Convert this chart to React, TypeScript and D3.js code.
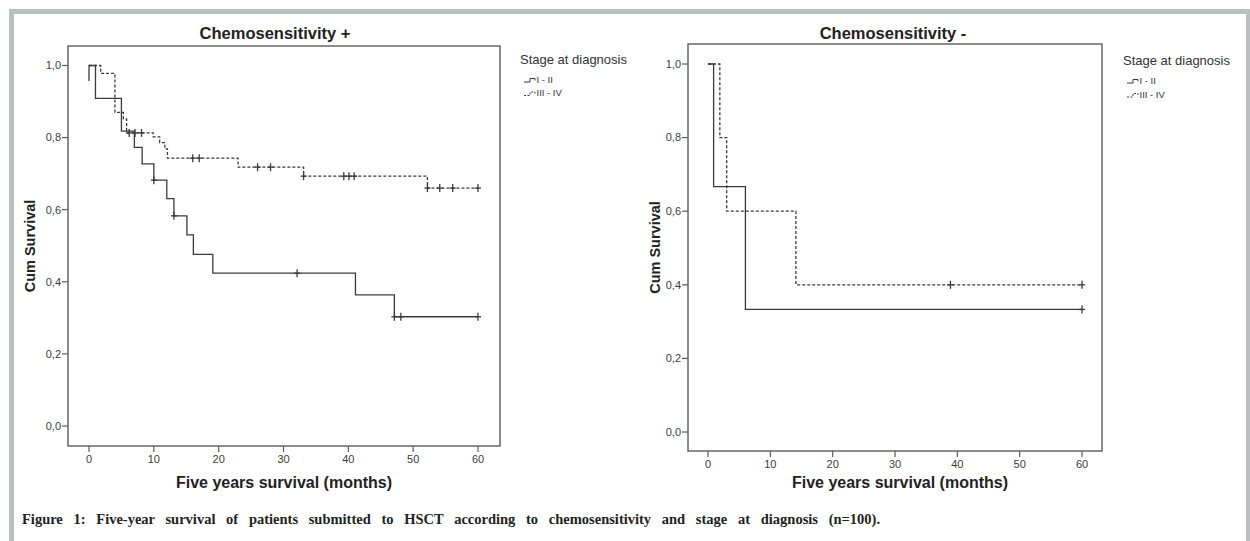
import React, { useRef, useEffect } from "react"
import * as d3 from "d3"

const monthTicks = [0, 10, 20, 30, 40, 50, 60]
const survivalTicks = [0, 0.2, 0.4, 0.6, 0.8, 1.0]
const stageLabels = ["I - II", "III - IV"]

// Chemosensitivity + : [month, cum survival after the step]
const posStageI = [[0, 0.957], [0, 1.0], [1.0, 0.909], [5.0, 0.818], [7.0, 0.773], [8.2, 0.727], [10.0, 0.682], [12.0, 0.631], [13.1, 0.583], [15.1, 0.53], [16.1, 0.476], [19.1, 0.424], [41.1, 0.364], [47.1, 0.303], [60, 0.303]]
const posStageICensored = [10.0, 13.1, 32.1, 47.1, 48.1, 60]
const posStageIII = [[0, 1.0], [1.8, 0.978], [4.0, 0.87], [5.3, 0.852], [5.8, 0.813], [9.9, 0.802], [10.9, 0.786], [11.7, 0.769], [12.1, 0.743], [23.0, 0.718], [33.1, 0.693], [52.2, 0.66], [60, 0.66]]
const posStageIIICensored = [6.2, 7.1, 8.1, 16.0, 17.0, 26.0, 28.0, 33.1, 39.3, 40.1, 40.9, 52.2, 54.1, 56.1, 60]

// Chemosensitivity -
const negStageI = [[0, 1.0], [0.9, 0.667], [6.0, 0.333], [60, 0.333]]
const negStageICensored = [60]
const negStageIII = [[0, 1.0], [1.9, 0.8], [3.0, 0.6], [14.1, 0.4], [60, 0.4]]
const negStageIIICensored = [38.9, 60]

const caption =
  "Figure 1: Five-year survival of patients submitted to HSCT according to chemosensitivity and stage at diagnosis (n=100)."

const sans = "'Liberation Sans', Arial, sans-serif"
const ink = "#3a3a3a"

const panels = [
  {
    title: "Chemosensitivity +",
    titleX: 275,
    box: { x0: 68, x1: 500, y0: 46, y1: 446 },
    xr: [89, 478],
    yr: [426, 65.5],
    yLabelX: 30,
    xLabelX: 284,
    legend: { x: 520, y: 64, gap: 13.5 },
    series: [
      { steps: posStageI, censored: posStageICensored, dash: null },
      { steps: posStageIII, censored: posStageIIICensored, dash: "3,2" },
    ],
  },
  {
    title: "Chemosensitivity -",
    titleX: 893,
    box: { x0: 688, x1: 1102, y0: 44, y1: 451 },
    xr: [708, 1082],
    yr: [432, 64],
    yLabelX: 655,
    xLabelX: 900,
    legend: { x: 1123, y: 65, gap: 14 },
    series: [
      { steps: negStageI, censored: negStageICensored, dash: null },
      { steps: negStageIII, censored: negStageIIICensored, dash: "3,2" },
    ],
  },
]

function valueAt(steps, t) {
  let v = steps[0][1]
  steps.forEach(d => {
    if (d[0] <= t) v = d[1]
  })
  return v
}

function drawPanel(svg, p) {
  const x = d3.scaleLinear().domain([0, 60]).range(p.xr)
  const y = d3.scaleLinear().domain([0, 1]).range(p.yr)
  const g = svg.append("g")
  const b = p.box

  g.append("rect")
    .attr("x", b.x0)
    .attr("y", b.y0)
    .attr("width", b.x1 - b.x0)
    .attr("height", b.y1 - b.y0)
    .attr("fill", "none")
    .attr("stroke", "#5c5c5c")
    .attr("stroke-width", 1.4)

  // y axis
  g.selectAll(".yt")
    .data(survivalTicks)
    .join("line")
    .attr("x1", b.x0 - 6)
    .attr("x2", b.x0)
    .attr("y1", d => y(d))
    .attr("y2", d => y(d))
    .attr("stroke", "#5c5c5c")
    .attr("stroke-width", 1.2)
  g.selectAll(".yl")
    .data(survivalTicks)
    .join("text")
    .attr("x", b.x0 - 7)
    .attr("y", d => y(d))
    .attr("dy", "0.35em")
    .attr("text-anchor", "end")
    .style("font-family", sans)
    .style("font-size", "11px")
    .attr("fill", "#3c3c3c")
    .text(d => d3.format(".1f")(d).replace(".", ","))

  // x axis
  g.selectAll(".xt")
    .data(monthTicks)
    .join("line")
    .attr("x1", d => x(d))
    .attr("x2", d => x(d))
    .attr("y1", b.y1)
    .attr("y2", b.y1 + 6)
    .attr("stroke", "#5c5c5c")
    .attr("stroke-width", 1.2)
  g.selectAll(".xl")
    .data(monthTicks)
    .join("text")
    .attr("x", d => x(d))
    .attr("y", b.y1 + 17)
    .attr("text-anchor", "middle")
    .style("font-family", sans)
    .style("font-size", "11px")
    .attr("fill", "#3c3c3c")
    .text(d => d)

  g.append("text")
    .attr("x", p.titleX)
    .attr("y", 39)
    .attr("text-anchor", "middle")
    .style("font-family", sans)
    .style("font-size", "16.5px")
    .style("font-weight", "bold")
    .attr("fill", "#222")
    .text(p.title)

  g.append("text")
    .attr("x", p.xLabelX)
    .attr("y", 488)
    .attr("text-anchor", "middle")
    .style("font-family", sans)
    .style("font-size", "16px")
    .style("font-weight", "bold")
    .attr("fill", "#222")
    .text("Five years survival (months)")

  g.append("text")
    .attr("transform", `translate(${p.yLabelX + 5}, ${(b.y0 + b.y1) / 2}) rotate(-90)`)
    .attr("text-anchor", "middle")
    .style("font-family", sans)
    .style("font-size", "14.5px")
    .style("font-weight", "bold")
    .attr("fill", "#222")
    .text("Cum Survival")

  const line = d3
    .line()
    .x(d => x(d[0]))
    .y(d => y(d[1]))
    .curve(d3.curveStepAfter)

  p.series.forEach(s => {
    g.append("path")
      .attr("d", line(s.steps))
      .attr("fill", "none")
      .attr("stroke", ink)
      .attr("stroke-width", 1.3)
      .attr("stroke-dasharray", s.dash)
    const marks = g.append("g").attr("stroke", ink).attr("stroke-width", 1.3)
    s.censored.forEach(t => {
      const cx = x(t)
      const cy = y(valueAt(s.steps, t))
      marks.append("line").attr("x1", cx).attr("x2", cx).attr("y1", cy - 4).attr("y2", cy + 4)
      marks.append("line").attr("x1", cx - 3).attr("x2", cx + 3).attr("y1", cy).attr("y2", cy)
    })
  })

  // legend
  const lg = g.append("g").attr("transform", `translate(${p.legend.x}, ${p.legend.y})`)
  lg.append("text")
    .style("font-family", sans)
    .style("font-size", "13px")
    .attr("fill", "#333")
    .text("Stage at diagnosis")
  stageLabels.forEach((lab, i) => {
    const ly = 18 + i * p.legend.gap
    lg.append("path")
      .attr("d", `M4,${ly} H10 V${ly - 3.5} H15 V${ly - 1.5}`)
      .attr("fill", "none")
      .attr("stroke", ink)
      .attr("stroke-width", 1)
      .attr("stroke-dasharray", p.series[i].dash ? "2,1.5" : null)
    lg.append("text")
      .attr("x", 16.5)
      .attr("y", ly + 0.5)
      .style("font-family", sans)
      .style("font-size", "9.5px")
      .attr("fill", "#333")
      .text(lab)
  })
}

export default function App() {
  const ref = useRef(null)

  useEffect(() => {
    const svg = d3.select(ref.current)
    svg.selectAll("*").remove()

    svg.append("rect").attr("width", 1250).attr("height", 541).attr("fill", "#fff")
    // grey page frame
    svg.append("rect").attr("x", 9).attr("y", 9).attr("width", 1241).attr("height", 5).attr("fill", "#bdbec0")
    svg.append("rect").attr("x", 9).attr("y", 9).attr("width", 5).attr("height", 532).attr("fill", "#bdbec0")
    svg.append("rect").attr("x", 1246).attr("y", 9).attr("width", 4).attr("height", 532).attr("fill", "#bdbec0")

    panels.forEach(p => drawPanel(svg, p))

    // caption is justified by spreading the words
    const cap = svg.append("text")
      .attr("x", 22)
      .attr("y", 524)
      .style("font-family", "'Liberation Serif', 'Times New Roman', serif")
      .style("font-size", "14.5px")
      .style("font-weight", "bold")
      .attr("fill", "#222")
      .text(caption)
    const natural = cap.node().getComputedTextLength()
    const spaces = caption.split(" ").length - 1
    if (natural < 858) {
      cap.style("word-spacing", `${(858 - natural) / spaces}px`)
    } else {
      cap.attr("textLength", 858).attr("lengthAdjust", "spacingAndGlyphs")
    }
  }, [])

  return (
    <svg
      ref={ref}
      width={1250}
      height={541}
      style={{ position: "absolute", left: 0, top: 0, display: "block" }}
    ></svg>
  )
}
